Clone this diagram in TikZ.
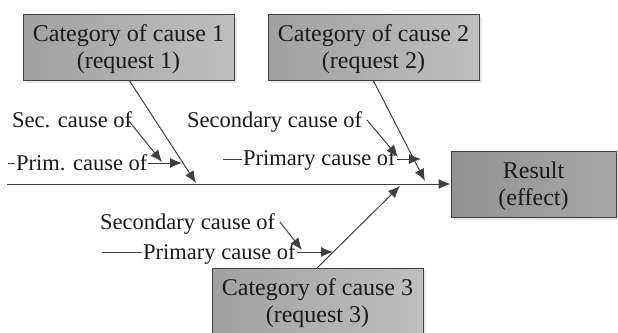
\documentclass[tikz,border=0pt]{standalone}
\usepackage{fontspec}
\setmainfont{Liberation Serif}
\usetikzlibrary{arrows.meta,shadows}
\definecolor{ln}{HTML}{404040}
\definecolor{tx}{HTML}{1A1A1A}
\tikzset{
  box/.style={draw=ln, line width=1pt, rectangle, inner sep=0pt,
    minimum width=211pt, minimum height=66pt, left color=black!37, right color=black!25,
    drop shadow={shadow xshift=3pt, shadow yshift=-3pt, fill=black!18}},
  resbox/.style={box, minimum width=165pt, left color=black!43, right color=black!34},
  boxtxt/.style={anchor=base, inner sep=0pt, text=tx, font=\fontsize{24}{27}\selectfont},
  lbl/.style={anchor=base west, inner sep=1pt, fill=white, text=tx, font=\fontsize{22.5}{26}\selectfont},
  arr/.style={draw=ln, line width=1pt, -{Latex[length=12pt,width=10pt]}},
}
\begin{document}
\begin{tikzpicture}[x=1pt,y=-1pt]
\useasboundingbox (0,0) rectangle (618,332);
% boxes
\node[box] (c1) at (128.5,47) {};
\node[box] (c2) at (373.5,47) {};
\node[box] (c3) at (317.5,301) {};
\node[resbox] (res) at (533.5,184) {};
\node[boxtxt] (c1a) at (128.5,41) {Category of cause 1};
\node[boxtxt] (c1b) at (128.5,68) {(request 1)};
\node[boxtxt] (c2a) at (373.5,41) {Category of cause 2};
\node[boxtxt] (c2b) at (373.5,68) {(request 2)};
\node[boxtxt] (c3a) at (317.5,295) {Category of cause 3};
\node[boxtxt] (c3b) at (317.5,322) {(request 3)};
\node[boxtxt] (ra) at (533.5,178) {Result};
\node[boxtxt] (rb) at (533.5,205) {(effect)};
% coordinates
\coordinate (s0) at (7,184);
\coordinate (b1s) at (129,80);
\coordinate (b1e) at (196,183);
\coordinate (b2s) at (373,80);
\coordinate (b2e) at (425,181);
\coordinate (b3s) at (317,268);
\coordinate (b3e) at (400,186);
\coordinate (p1s) at (8,163);
\coordinate (p1e) at (182,163);
\coordinate (q1s) at (128,120);
\coordinate (q1e) at (162,162);
\coordinate (p2s) at (223,159);
\coordinate (p2e) at (421,159);
\coordinate (q2s) at (367,120);
\coordinate (q2e) at (398,157);
\coordinate (p3s) at (102,252);
\coordinate (p3e) at (333,252);
\coordinate (q3s) at (280,222);
\coordinate (q3e) at (302,250);
% spine and branches
\draw[arr] (s0) -- (res.west);
\draw[arr] (b1s) -- (b1e);
\draw[arr] (b2s) -- (b2e);
\draw[arr] (b3s) -- (b3e);
% primary arrows
\draw[arr] (p1s) -- (p1e);
\draw[arr] (p2s) -- (p2e);
\draw[arr] (p3s) -- (p3e);
% labels
\node[lbl] (l1s) at (11,127) {Sec. cause of};
\node[lbl] (l1p) at (15,170) {Prim. cause of};
\node[lbl] (l2s) at (186,127) {Secondary cause of};
\node[lbl] (l2p) at (242,165) {Primary cause of};
\node[lbl] (l3s) at (99,229) {Secondary cause of};
\node[lbl] (l3p) at (142,259) {Primary cause of};
% secondary arrows
\draw[arr] (q1s) -- (q1e);
\draw[arr] (q2s) -- (q2e);
\draw[arr] (q3s) -- (q3e);
\end{tikzpicture}
\end{document}
